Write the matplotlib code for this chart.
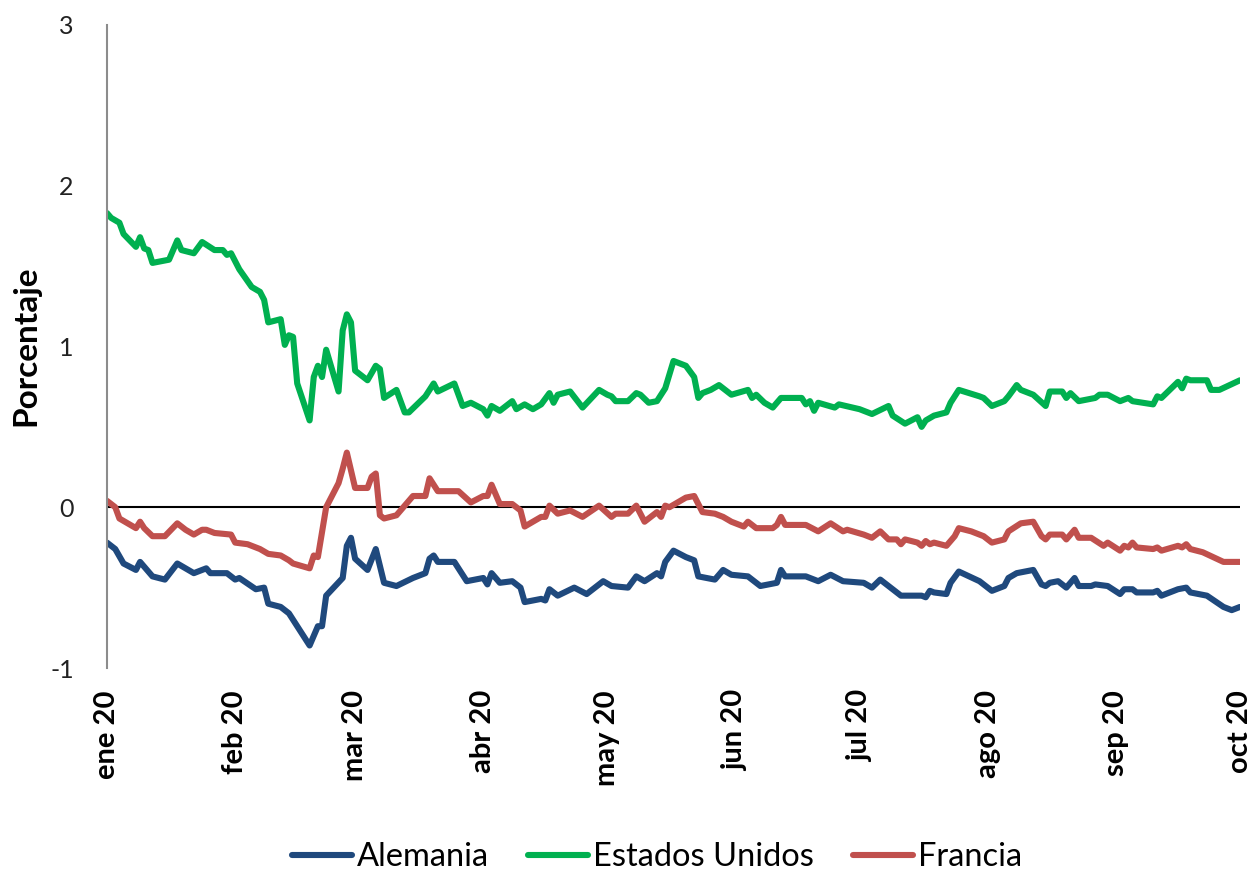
import numpy as np
import pandas as pd
import matplotlib
matplotlib.use("Agg")
import matplotlib.pyplot as plt

plt.rcParams['font.family'] = ['Lato', 'DejaVu Sans']

# ---------------- data (day offsets from 2020-01-01, values in %) ----------------
month_labels = ["ene 20", "feb 20", "mar 20", "abr 20", "may 20",
                "jun 20", "jul 20", "ago 20", "sep 20", "oct 20"]

eeuu_days = [0, 1, 3, 4, 7, 8, 9, 10, 11, 15, 17, 18, 21, 23, 26, 28, 29, 30, 32, 35,
             37, 38, 39, 42, 43, 44, 45, 46, 49, 50, 51, 52, 53, 56, 57, 58, 59, 60, 63, 65,
             66, 67, 70, 72, 73, 77, 79, 80, 84, 86, 88, 91, 92, 93, 95, 98, 99, 101, 103, 105,
             107, 108, 109, 112, 115, 119, 121, 122, 123, 126, 128, 129, 131, 133, 135, 137, 140, 142, 143, 144,
             146, 148, 151, 155, 156, 157, 159, 161, 163, 168, 169, 170, 171, 172, 176, 177, 182, 185, 189, 190,
             193, 196, 197, 198, 200, 203, 204, 206, 211, 212, 214, 217, 218, 220, 221, 224, 227, 228, 231, 232,
             233, 235, 239, 240, 242, 245, 247, 248, 253, 254, 255, 259, 260, 261, 262, 266, 267, 269, 274]
eeuu_vals = [1.83, 1.80, 1.77, 1.70, 1.62, 1.68, 1.61, 1.60, 1.52, 1.54, 1.66, 1.60, 1.58, 1.65, 1.60, 1.60, 1.57, 1.58, 1.48, 1.37,
             1.34, 1.29, 1.15, 1.17, 1.01, 1.07, 1.06, 0.77, 0.54, 0.81, 0.88, 0.81, 0.98, 0.72, 1.10, 1.20, 1.15, 0.85, 0.79, 0.88,
             0.86, 0.68, 0.73, 0.59, 0.59, 0.69, 0.77, 0.72, 0.77, 0.63, 0.65, 0.61, 0.57, 0.63, 0.60, 0.66, 0.61, 0.64, 0.61, 0.64,
             0.71, 0.65, 0.70, 0.72, 0.62, 0.73, 0.70, 0.69, 0.66, 0.66, 0.71, 0.70, 0.65, 0.66, 0.74, 0.91, 0.88, 0.81, 0.68, 0.71,
             0.73, 0.76, 0.70, 0.73, 0.68, 0.70, 0.65, 0.62, 0.68, 0.68, 0.64, 0.66, 0.60, 0.65, 0.62, 0.64, 0.61, 0.58, 0.63, 0.57,
             0.52, 0.56, 0.50, 0.54, 0.57, 0.59, 0.65, 0.73, 0.69, 0.68, 0.63, 0.66, 0.69, 0.76, 0.73, 0.70, 0.63, 0.72, 0.72, 0.68,
             0.71, 0.66, 0.68, 0.70, 0.70, 0.66, 0.68, 0.66, 0.64, 0.69, 0.68, 0.78, 0.74, 0.80, 0.79, 0.79, 0.73, 0.73, 0.79]

francia_days = [0, 2, 3, 7, 8, 9, 11, 14, 17, 18, 19, 21, 23, 24, 26, 30, 31, 34, 37, 39,
                42, 44, 45, 49, 50, 51, 53, 56, 57, 58, 60, 63, 64, 65, 66, 67, 70, 74, 77, 78,
                80, 85, 88, 91, 92, 93, 95, 98, 100, 101, 105, 106, 107, 109, 112, 115, 119, 122, 123, 126,
                128, 130, 133, 134, 135, 136, 138, 140, 142, 144, 147, 149, 151, 154, 155, 157, 161, 162, 163, 164,
                169, 172, 175, 178, 179, 183, 185, 187, 189, 191, 192, 193, 196, 197, 198, 199, 200, 203, 205, 206,
                209, 212, 214, 217, 218, 221, 224, 226, 227, 228, 231, 232, 234, 235, 238, 241, 242, 245, 246, 247,
                248, 249, 253, 254, 255, 259, 260, 261, 262, 265, 270, 274]
francia_vals = [0.04, 0.00, -0.07, -0.13, -0.09, -0.13, -0.18, -0.18, -0.10, -0.12, -0.14, -0.17, -0.14, -0.14, -0.16, -0.17, -0.22, -0.23, -0.26, -0.29,
                -0.30, -0.33, -0.35, -0.38, -0.30, -0.31, 0.00, 0.15, 0.24, 0.34, 0.12, 0.12, 0.19, 0.21, -0.05, -0.07, -0.05, 0.07, 0.07, 0.18,
                0.10, 0.10, 0.03, 0.07, 0.07, 0.14, 0.02, 0.02, -0.02, -0.12, -0.06, -0.06, 0.01, -0.04, -0.02, -0.06, 0.01, -0.06, -0.04, -0.04,
                0.01, -0.09, -0.03, -0.06, 0.01, 0.00, 0.03, 0.06, 0.07, -0.03, -0.04, -0.06, -0.09, -0.12, -0.09, -0.13, -0.13, -0.11, -0.06, -0.11,
                -0.11, -0.15, -0.10, -0.15, -0.14, -0.17, -0.19, -0.15, -0.20, -0.20, -0.23, -0.20, -0.22, -0.24, -0.21, -0.23, -0.22, -0.24, -0.18, -0.13,
                -0.15, -0.18, -0.22, -0.20, -0.15, -0.10, -0.09, -0.18, -0.20, -0.17, -0.17, -0.20, -0.14, -0.19, -0.19, -0.24, -0.22, -0.27, -0.24, -0.25,
                -0.22, -0.25, -0.26, -0.25, -0.27, -0.24, -0.25, -0.23, -0.26, -0.28, -0.34, -0.34]

alemania_days = [0, 2, 4, 7, 8, 11, 14, 17, 19, 21, 24, 25, 29, 31, 32, 36, 38, 39, 42, 44,
                 49, 51, 52, 53, 57, 58, 59, 60, 63, 65, 67, 70, 74, 77, 78, 79, 80, 84, 87, 91,
                 92, 93, 95, 98, 100, 101, 105, 106, 107, 109, 113, 116, 120, 122, 126, 128, 130, 133, 134, 135,
                 137, 140, 142, 143, 147, 149, 151, 155, 158, 162, 163, 164, 169, 172, 175, 178, 183, 185, 187, 190,
                 192, 197, 198, 199, 200, 203, 204, 206, 211, 214, 217, 218, 220, 224, 226, 227, 228, 230, 232, 234,
                 235, 238, 239, 242, 245, 246, 248, 249, 253, 254, 255, 259, 261, 262, 266, 270, 272, 274]
alemania_vals = [-0.22, -0.26, -0.35, -0.39, -0.34, -0.43, -0.45, -0.35, -0.38, -0.41, -0.38, -0.41, -0.41, -0.45, -0.44, -0.51, -0.50, -0.60, -0.62, -0.66,
                 -0.86, -0.74, -0.74, -0.55, -0.44, -0.24, -0.19, -0.32, -0.39, -0.26, -0.47, -0.49, -0.44, -0.41, -0.32, -0.30, -0.34, -0.34, -0.46, -0.44,
                 -0.48, -0.41, -0.47, -0.46, -0.50, -0.59, -0.57, -0.58, -0.51, -0.55, -0.50, -0.54, -0.46, -0.49, -0.50, -0.43, -0.46, -0.41, -0.43, -0.34,
                 -0.27, -0.31, -0.33, -0.43, -0.45, -0.39, -0.42, -0.43, -0.49, -0.47, -0.39, -0.43, -0.43, -0.46, -0.42, -0.46, -0.47, -0.50, -0.45, -0.51,
                 -0.55, -0.55, -0.56, -0.52, -0.53, -0.54, -0.47, -0.40, -0.46, -0.52, -0.49, -0.44, -0.41, -0.39, -0.48, -0.49, -0.47, -0.46, -0.50, -0.44,
                 -0.49, -0.49, -0.48, -0.49, -0.54, -0.51, -0.51, -0.53, -0.53, -0.52, -0.55, -0.51, -0.50, -0.53, -0.55, -0.62, -0.64, -0.62]

series = [
    ("Alemania", alemania_days, alemania_vals, "#1F497D"),
    ("Estados Unidos", eeuu_days, eeuu_vals, "#00B050"),
    ("Francia", francia_days, francia_vals, "#C0504D"),
]

start = np.datetime64("2020-01-01")
month_starts = pd.date_range("2020-01-01", "2020-10-01", freq="MS")

W, H = 1258, 876
fig = plt.figure(figsize=(W / 100, H / 100), dpi=100)
ax = fig.add_axes([107 / W, (H - 668) / H, (1240 - 107) / W, (668 - 25) / H])

for name, days, vals, col in series:
    x = start + np.array(days, dtype="timedelta64[D]")
    ax.plot(x, vals, color=col, lw=4.4, label=name,
            solid_joinstyle="round", solid_capstyle="round")

ax.axhline(0, color="black", lw=1.5, zorder=1)
ax.set_ylim(-1, 3)
ax.set_yticks([-1, 0, 1, 2, 3])
ax.set_yticklabels(["-1", "0", "1", "2", "3"])
ax.set_xlim(month_starts[0], month_starts[-1])
ax.set_xticks(month_starts)
ax.set_xticklabels(month_labels, rotation=90, fontweight="bold", fontsize=21)

for s in ["top", "right", "bottom"]:
    ax.spines[s].set_visible(False)
ax.spines["left"].set_color("#8c8c8c")
ax.spines["left"].set_linewidth(1.5)
ax.tick_params(axis="y", length=0, pad=24, labelsize=18, labelcolor="#222222")
ax.tick_params(axis="x", length=0, pad=16)

fig.text(26 / W, 1 - 346 / H, "Porcentaje", rotation=90, fontsize=24, fontweight="bold",
         ha="center", va="center")

fig.legend(loc="center", bbox_to_anchor=(657 / W, 1 - 857 / H), ncol=3, frameon=False,
           fontsize=23.5, handlelength=1.84, handletextpad=0.15, columnspacing=1.2,
           borderpad=0.2)

fig.savefig("out.png", dpi=100)
